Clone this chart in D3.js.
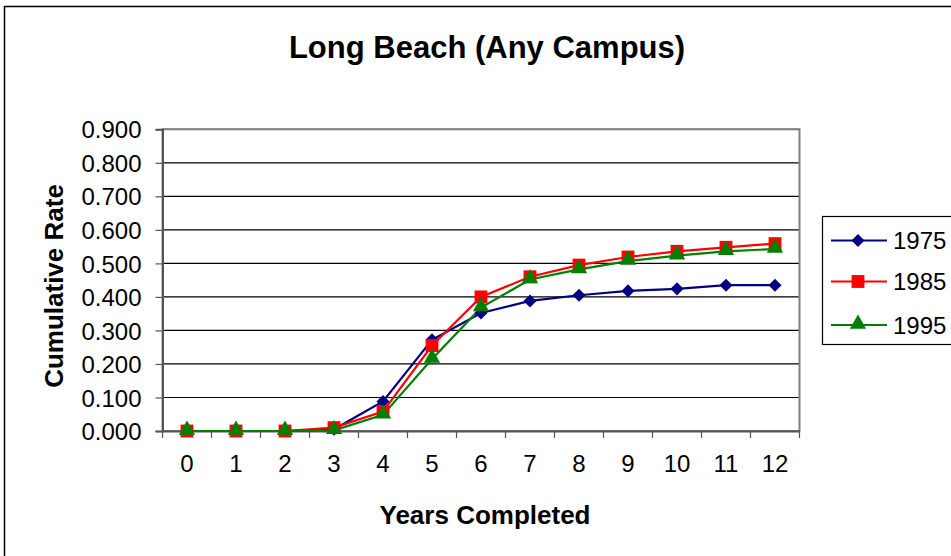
<!DOCTYPE html>
<html lang="en">
  <head>
    <meta charset="UTF-8" />
    <title>Long Beach (Any Campus)</title>
    <style>
      body { margin: 0; background: #fff; }
      svg { display: block; font-family: "Liberation Sans", Arial, sans-serif; }
    </style>
  </head>
  <body>
    <svg width="951" height="556"></svg>

    <script src="https://d3js.org/d3.v7.min.js"></script>
    <script>
      // Chart data
      const years = [0, 1, 2, 3, 4, 5, 6, 7, 8, 9, 10, 11, 12];
      const cohorts = ["1975", "1985", "1995"];
      const rate1975 = [0, 0, 0, 0.005, 0.088, 0.272, 0.352, 0.388, 0.405, 0.418, 0.424, 0.435, 0.435];
      const rate1985 = [0, 0, 0, 0.01, 0.058, 0.255, 0.4, 0.46, 0.495, 0.519, 0.536, 0.548, 0.559];
      const rate1995 = [0, 0, 0, 0.002, 0.048, 0.215, 0.368, 0.452, 0.482, 0.507, 0.523, 0.536, 0.543];
      const yTicks = [0, 0.1, 0.2, 0.3, 0.4, 0.5, 0.6, 0.7, 0.8, 0.9];

      const seriesValues = [rate1975, rate1985, rate1995];
      const colors = ["#000080", "#ff0000", "#008000"];

      // Excel-like markers: diamond is a square turned 45deg
      const marker = (i) => {
        if (i === 0) return { d: d3.symbol().type(d3.symbolSquare).size(85)(), rot: 45, dy: 0 };
        if (i === 1) return { d: d3.symbol().type(d3.symbolSquare).size(165)(), rot: 0, dy: 0 };
        return { d: d3.symbol().type(d3.symbolTriangle).size(115)(), rot: 0, dy: -1 };
      };

      const svg = d3.select("svg");
      const plot = { left: 162.5, right: 799.5, top: 129.3, bottom: 431 };

      // outer chart border
      svg.append("rect")
        .attr("x", 4.5).attr("y", 6.5)
        .attr("width", 960).attr("height", 560)
        .attr("fill", "none").attr("stroke", "#000").attr("stroke-width", 1.5);

      const x = d3.scaleBand().domain(years).range([plot.left, plot.right]);
      const y = d3.scaleLinear().domain([0, 0.9]).range([plot.bottom, plot.top]);

      // gridlines
      svg.append("g")
        .selectAll("line")
        .data(yTicks.slice(1))
        .enter()
        .append("line")
        .attr("x1", plot.left).attr("x2", plot.right)
        .attr("y1", (d) => y(d)).attr("y2", (d) => y(d))
        .attr("stroke", "#000").attr("stroke-width", 1.2);

      // plot area border
      svg.append("rect")
        .attr("x", plot.left).attr("y", plot.top)
        .attr("width", plot.right - plot.left).attr("height", plot.bottom - plot.top)
        .attr("fill", "none").attr("stroke", "#808080").attr("stroke-width", 2);

      // Y axis
      const yAxis = d3.axisLeft(y).tickValues(yTicks).tickFormat(d3.format(".3f")).tickSize(7).tickPadding(14);
      const yg = svg.append("g").attr("transform", `translate(${plot.left},0)`).call(yAxis);
      yg.select(".domain").attr("stroke", "#555").attr("stroke-width", 2);
      yg.selectAll(".tick line").attr("stroke", "#555").attr("stroke-width", 1.2);
      yg.selectAll("text").attr("font-size", 24).attr("fill", "#000").attr("font-family", "Liberation Sans, Arial, sans-serif").attr("dy", "0.36em");

      // X axis (labels centred in bands, ticks at band edges)
      const xAxis = d3.axisBottom(x).tickSize(0).tickPadding(24);
      const xg = svg.append("g").attr("transform", `translate(0,${plot.bottom})`).call(xAxis);
      xg.select(".domain").attr("stroke", "#555").attr("stroke-width", 2);
      xg.selectAll("text").attr("font-size", 24).attr("fill", "#000").attr("font-family", "Liberation Sans, Arial, sans-serif");
      xg.selectAll(".edge")
        .data(d3.range(years.length + 1))
        .enter()
        .append("line")
        .attr("class", "edge")
        .attr("x1", (i) => plot.left + i * x.step()).attr("x2", (i) => plot.left + i * x.step())
        .attr("y1", 0).attr("y2", 7)
        .attr("stroke", "#555").attr("stroke-width", 1.2);

      // series lines + markers
      const cx = (d) => x(d) + x.bandwidth() / 2;
      const line = d3.line();

      seriesValues.forEach((vals, i) => {
        const pts = years.map((yr, j) => [cx(yr), y(vals[j])]);
        svg.append("path")
          .attr("d", line(pts))
          .attr("fill", "none")
          .attr("stroke", colors[i])
          .attr("stroke-width", 2.2);
      });
      seriesValues.forEach((vals, i) => {
        const m = marker(i);
        svg.append("g")
          .selectAll("path")
          .data(years)
          .enter()
          .append("path")
          .attr("d", m.d)
          .attr("transform", (yr, j) => `translate(${cx(yr)},${y(vals[j]) + m.dy}) rotate(${m.rot})`)
          .attr("fill", colors[i]);
      });

      // titles
      svg.append("text")
        .attr("x", 487).attr("y", 58)
        .attr("text-anchor", "middle")
        .attr("font-size", 31).attr("font-weight", "bold")
        .text("Long Beach (Any Campus)");

      svg.append("text")
        .attr("x", 485).attr("y", 524)
        .attr("text-anchor", "middle")
        .attr("font-size", 26).attr("font-weight", "bold")
        .text("Years Completed");

      svg.append("text")
        .attr("transform", "translate(63,286) rotate(-90)")
        .attr("text-anchor", "middle")
        .attr("font-size", 26).attr("font-weight", "bold")
        .text("Cumulative Rate");

      // legend
      const legend = svg.append("g").attr("transform", "translate(822,216)");
      legend.append("rect")
        .attr("x", 0.5).attr("y", 0.5)
        .attr("width", 160).attr("height", 128)
        .attr("fill", "#fff").attr("stroke", "#000").attr("stroke-width", 1.2);

      const rowY = [24.5, 65.5, 109];
      cohorts.forEach((c, i) => {
        const m = marker(i);
        const g = legend.append("g").attr("transform", `translate(0,${rowY[i]})`);
        g.append("line")
          .attr("x1", 9).attr("x2", 65)
          .attr("stroke", colors[i]).attr("stroke-width", 2);
        g.append("path")
          .attr("d", m.d)
          .attr("transform", `translate(36,${m.dy}) rotate(${m.rot})`)
          .attr("fill", colors[i]);
        g.append("text")
          .attr("x", 71).attr("y", 0)
          .attr("dy", "0.36em")
          .attr("font-size", 24)
          .text(c);
      });
    </script>
  </body>
</html>
